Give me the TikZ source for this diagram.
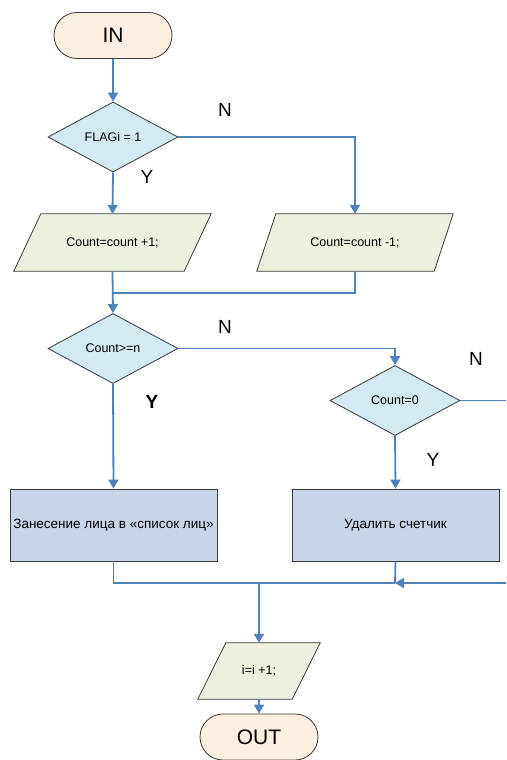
\documentclass[tikz,border=0pt]{standalone}
\usepackage{fontspec}
\setmainfont{Liberation Sans}
\usetikzlibrary{shapes.geometric,shapes.misc,arrows.meta,backgrounds}
\definecolor{lineblue}{HTML}{4F81BD}
\definecolor{bordergray}{HTML}{3A3A3A}
\definecolor{termfill}{HTML}{FDEEE2}
\definecolor{decfill}{HTML}{D2EAF1}
\definecolor{parafill}{HTML}{EBF0DF}
\definecolor{procfill}{HTML}{C8D5E6}
\tikzset{
  x=1pt, y=-1pt,
  terminal/.style={rounded rectangle, draw=bordergray, fill=termfill, line width=0.8pt,
    minimum width=118pt, minimum height=46pt, inner sep=0pt, font=\fontsize{21}{24}\selectfont},
  decision/.style={diamond, draw=bordergray, fill=decfill, line width=0.8pt,
    minimum width=130pt, minimum height=70pt, inner sep=0pt, font=\fontsize{12.5}{14}\selectfont},
  iobox/.style={rectangle, minimum height=57pt, inner sep=0pt, font=\fontsize{12.5}{14}\selectfont},
  ioshape/.style={draw=bordergray, fill=parafill, line width=0.8pt},
  procbox/.style={rectangle, draw=bordergray, fill=procfill, line width=0.8pt,
    minimum width=207pt, minimum height=72pt, inner sep=0pt, font=\fontsize{13.5}{15}\selectfont},
  conn/.style={draw=lineblue, line width=1.8pt},
  arr/.style={conn, -{Triangle[width=10pt,length=9pt]}},
  lbl/.style={font=\fontsize{19}{22}\selectfont, inner sep=0pt},
}
\begin{document}
\begin{tikzpicture}
\useasboundingbox (0,0) rectangle (506,760);
% nodes
\node[terminal] (in) at (113,35.5) {IN};
\node[decision] (d1) at (113,137) {FLAGi = 1};
\node[iobox, minimum width=197pt] (p1) at (112.5,242.5) {Count=count +1;};
\node[iobox, minimum width=196pt] (p2) at (355,242.5) {Count=count -1;};
\node[decision] (d2) at (113,348.5) {Count>=n};
\node[decision] (d3) at (395,400.5) {Count=0};
\node[procbox] (r1) at (113.5,525) {Занесение лица в «список лиц»};
\node[procbox] (r2) at (395.5,525) {Удалить счетчик};
\node[iobox, minimum width=122pt, minimum height=56pt] (p3) at (259,671) {i=i +1;};
\node[terminal] (out) at (259,737) {OUT};
% parallelogram outlines behind their texts
\begin{scope}[on background layer]
\foreach \p/\s in {p1/27, p2/19, p3/28}{
  \draw[ioshape] ([xshift=\s pt]\p.north west) -- (\p.north east)
     -- ([xshift=-\s pt]\p.south east) -- (\p.south west) -- cycle;
}
\end{scope}
% labels
\node[lbl] (n1) at (225,110) {N};
\node[lbl] (y1) at (147,177) {Y};
\node[lbl] (n2) at (225,327) {N};
\node[lbl, font=\bfseries\fontsize{19}{22}\selectfont] (y2) at (152,402) {Y};
\node[lbl] (n3) at (476,359) {N};
\node[lbl] (y3) at (433,460) {Y};
% helper coordinates
\coordinate (m1) at (113,293);
\coordinate (m2) at (395,583);
\coordinate (m3) at (259,583);
\coordinate (e1) at (506,400.5);
\coordinate (e2) at (506,583);
% connectors
\draw[arr] (in.south) -- (d1.north);
\draw[arr] (d1.south) -- (p1.north);
\draw[arr] (d1.east) -| (p2.north);
\draw[conn] (p2.south) |- (m1);
\draw[arr] (p1.south) -- (d2.north);
\draw[arr] (d2.south) -- (r1.north);
\draw[arr] (d2.east) -| (d3.north);
\draw[arr] (d3.south) -- (r2.north);
\draw[conn] (d3.east) -- (e1);
\draw[conn] (r1.south) |- (m2);
\draw[conn] (r2.south) -- (m2);
\draw[arr] (e2) -- (m2);
\draw[arr] (m3) -- (p3.north);
\draw[arr] (p3.south) -- (out.north);
\end{tikzpicture}
\end{document}
